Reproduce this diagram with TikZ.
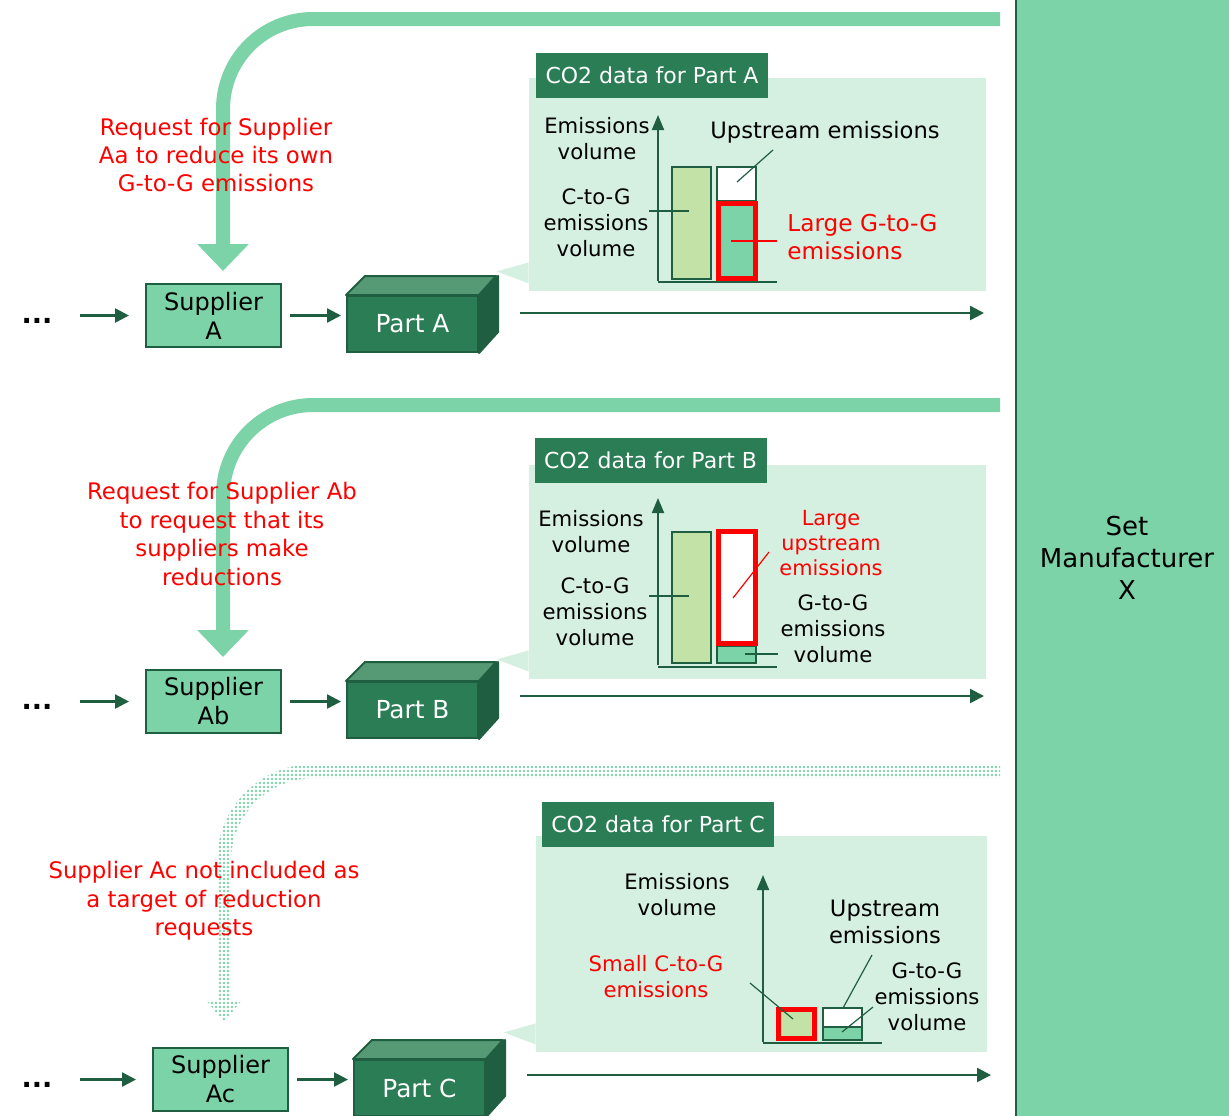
\documentclass[tikz,border=0pt]{standalone}
\usepackage{fontspec}
\setmainfont{DejaVu Sans}
\usetikzlibrary{arrows.meta,positioning,patterns.meta}
\definecolor{bandc}{HTML}{7DD3A8}
\definecolor{panelc}{HTML}{D5F0E1}
\definecolor{partc}{HTML}{2A7D55}
\definecolor{dkc}{HTML}{1F5E40}
\definecolor{topc}{HTML}{559A75}
\definecolor{barc}{HTML}{C3E2A8}
\newcommand{\fsz}[2]{\fontsize{#1}{#2}\selectfont}

\begin{document}
\begin{tikzpicture}[x=0.5pt, y=-0.5pt,
   node distance=32pt,
   sup/.style={draw=dkc, line width=1pt, fill=bandc, align=center, inner sep=1pt,
               minimum width=67.5pt, minimum height=31.5pt, font=\fsz{12}{14.5}},
   part/.style={draw=dkc, line width=1pt, fill=partc, text=white,
                minimum width=65.5pt, minimum height=28pt, font=\fsz{12.4}{14.5}},
   more/.style={inner sep=1pt, font=\fsz{13.5}{15}\bfseries},
   panel/.style={fill=panelc, inner sep=0pt},
   hdr/.style={fill=partc, text=white, inner sep=0pt,
               minimum width=116pt, minimum height=22.5pt, font=\fsz{11}{13}},
   lbl/.style={align=center, inner sep=1pt, font=\fsz{10.6}{13}},
   req/.style={align=center, text=red, inner sep=1pt, font=\fsz{11.4}{14.2}},
   flow/.style={-{Triangle[length=7pt,width=7pt]}, draw=dkc, line width=1.2pt},
   band/.style={draw=bandc, line width=7pt, rounded corners=45pt,
                -{Triangle[length=13.5pt,width=25pt]}},
   bar/.style={draw=dkc, line width=1pt},
   hot/.style={draw=red, line width=2.5pt},
   lead/.style={draw=dkc, line width=0.6pt},
   axis/.style={draw=dkc, line width=1pt, -{Triangle[length=7.5pt,width=6pt]}}]
  \useasboundingbox (0,0) rectangle (1229,1115);

  \node[draw=dkc, line width=1pt, fill=bandc, minimum width=111pt, minimum height=563.5pt,
        align=center, font=\fsz{13}{16}] (setX) at (1127,557.5) {Set\\Manufacturer\\X};

  \node[sup] (supA) at (213.5,315.5) {Supplier\\A};
  \node[sup] (supB) at (213.5,701.5) {Supplier\\Ab};
  \node[sup] (supC) at (220.5,1079.5) {Supplier\\Ac};
  \node[part, right=of supA, yshift=-4.25pt] (partA) {Part A};
  \node[part, right=of supB, yshift=-4.25pt] (partB) {Part B};
  \node[part, right=of supC, yshift=-4.25pt] (partC) {Part C};
  \node[more] (dotsA) at (37,321) {...};
  \node[more] (dotsB) at (37,707) {...};
  \node[more] (dotsC) at (37,1085) {...};

  \foreach \p in {partA,partB,partC} {
    \filldraw[draw=dkc, line width=1pt, fill=topc, line join=round]
      (\p.north west) -- ++(9.5pt,9.5pt) -- ++(65.5pt,0pt) -- (\p.north east) -- cycle;
    \filldraw[draw=dkc, line width=1pt, fill=dkc, line join=round]
      (\p.north east) -- ++(9.5pt,9.5pt) -- ++(0pt,-28pt) -- (\p.south east) -- cycle;
  }
  \foreach \r in {A,B,C} {
    \draw[flow, shorten <=12.5pt, shorten >=8pt] (dots\r.east |- sup\r) -- (sup\r);
    \draw[flow, shorten <=4pt, shorten >=2.5pt] (sup\r.east) -- (sup\r.east -| part\r.west);
  }
  \foreach \r/\s/\g in {A/5.5/15.5,B/7/15.5,C/6.5/12}
    \draw[flow] ([xshift=20.5pt,yshift=\s pt]part\r.east)
             -- ([xshift=-\g pt,yshift=\s pt]part\r.east -| setX.west);

  \node[panel, minimum width=228.5pt, minimum height=106.5pt] (panelA) at (757.5,184.5) {};
  \node[panel, minimum width=228.5pt, minimum height=107pt] (panelB) at (757.5,572) {};
  \node[panel, minimum width=225.5pt, minimum height=108pt] (panelC) at (761.5,944) {};
  \foreach \p in {panelA,panelB,panelC}
    \fill[panelc] ([yshift=4pt]\p.south west) -- ++(-16pt,6pt) -- ([yshift=14.5pt]\p.south west) -- cycle;
  \node[hdr] (hdrA) at (652,75.5) {CO2 data for Part A};
  \node[hdr] (hdrB) at (650.5,460.5) {CO2 data for Part B};
  \node[hdr] (hdrC) at (658,824.5) {CO2 data for Part C};

  \coordinate (rqA) at (1000,19);
  \coordinate (rqB) at (1000,405);
  \draw[band] (rqA) -| ([xshift=4.75pt,yshift=6pt]supA.north);
  \draw[band] (rqB) -| ([xshift=4.75pt,yshift=6pt]supB.north);
  \fill[pattern={Dots[distance=2pt,radius=0.65pt]}, pattern color=bandc]
    (1000,764) -- (314,764) .. controls (260.4,764) and (217,807.4) .. (217,861)
    -- (217,1000) -- (206,1000) -- (224,1022) -- (242,1000) -- (231,1000)
    -- (231,861) .. controls (231,815.2) and (268.2,778) .. (314,778) -- (1000,778) -- cycle;

  \node[req] (askA) at (216,155) {Request for Supplier\\Aa to reduce its own\\G-to-G emissions};
  \node[req] (askB) at (222,534) {Request for Supplier Ab\\to request that its\\suppliers make\\reductions};
  \node[req] (askC) at (204,901) {Supplier Ac not included as\\a target of reduction\\requests};

  \draw[axis] (658,281) -- (658,115);
  \draw[lead] (658,282) -- (777,282);
  \filldraw[bar, fill=barc] (672,167) rectangle (711,279);
  \filldraw[bar, fill=white] (717,167) rectangle (756,201);
  \filldraw[bar, fill=bandc] (717,201) rectangle (756,279);
  \draw[hot] (718.5,203.5) rectangle (755.5,278.5);
  \draw[lead] (737,182) -- (773,150);
  \draw[lead] (649,211) -- (689,211);
  \draw[lead, draw=red] (731,241) -- (777,241);
  \node[lbl] (emA) at (597,139) {Emissions\\volume};
  \node[lbl] (cgA) at (596,223) {C-to-G\\emissions\\volume};
  \node[lbl, font=\fsz{11.3}{13}] (upA) at (825,132) {Upstream emissions};
  \node[lbl, text=red, align=left, anchor=west, font=\fsz{11.6}{14}] (lgA) at (785,237) {Large G-to-G\\emissions};

  \draw[axis] (658,665) -- (658,498);
  \draw[lead] (658,667) -- (777,667);
  \filldraw[bar, fill=barc] (672,532) rectangle (711,663);
  \filldraw[bar, fill=bandc] (717,646) rectangle (756,663);
  \filldraw[hot, fill=white] (718.5,531.5) rectangle (755.5,643.5);
  \draw[lead] (649,596) -- (689,596);
  \draw[lead, draw=red] (733,598) -- (769,552);
  \draw[lead] (745,654) -- (778,654);
  \node[lbl] (emB) at (591,532) {Emissions\\volume};
  \node[lbl] (cgB) at (595,612) {C-to-G\\emissions\\volume};
  \node[lbl, text=red, font=\fsz{10.4}{12.6}] (luB) at (831,543) {Large\\upstream\\emissions};
  \node[lbl] (ggB) at (833,629) {G-to-G\\emissions\\volume};

  \draw[axis] (763,1042) -- (763,875);
  \draw[lead] (763,1043) -- (882,1043);
  \filldraw[hot, fill=barc] (778.5,1009.5) rectangle (814.5,1038.5);
  \filldraw[bar, fill=white] (823,1008) rectangle (862,1027);
  \filldraw[bar, fill=bandc] (823,1027) rectangle (862,1040);
  \draw[lead] (750,983) -- (793,1019);
  \draw[lead] (843,1008) -- (872,955);
  \draw[lead] (842,1032) -- (873,1007);
  \node[lbl] (emC) at (677,895) {Emissions\\volume};
  \node[lbl, font=\fsz{11.3}{13.5}] (upC) at (885,922) {Upstream\\emissions};
  \node[lbl, text=red] (scC) at (656,977) {Small C-to-G\\emissions};
  \node[lbl] (ggC) at (927,997) {G-to-G\\emissions\\volume};
\end{tikzpicture}
\end{document}
